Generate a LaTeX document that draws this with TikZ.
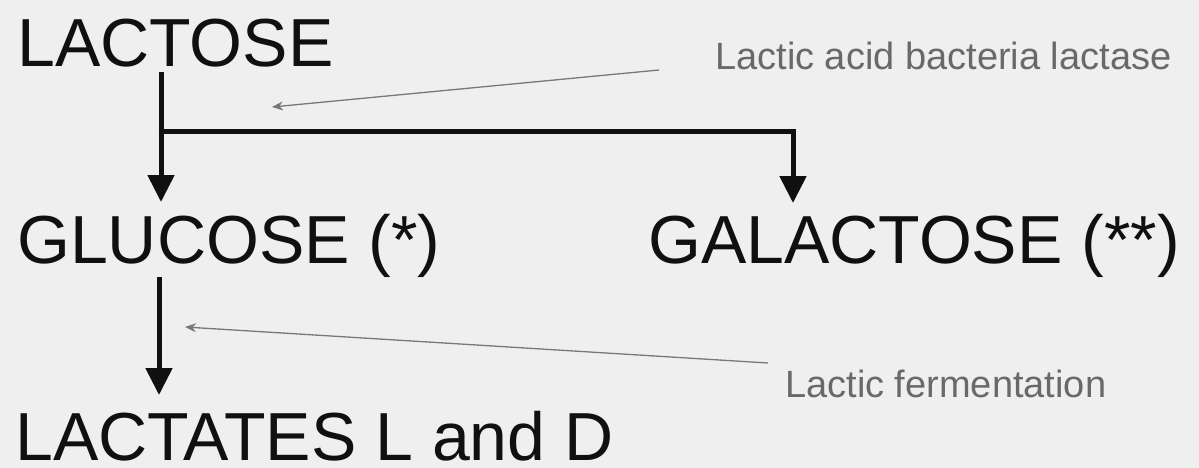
\documentclass[tikz,border=0pt]{standalone}
\usepackage{fontspec}
\setmainfont{Liberation Sans}
\usetikzlibrary{arrows.meta}
\definecolor{bg}{RGB}{239,239,239}
\definecolor{ink}{RGB}{16,16,16}
\definecolor{lbl}{RGB}{105,105,105}
\definecolor{thinarr}{RGB}{120,120,120}
\tikzset{
  big/.style={anchor=base west, inner sep=0pt, text=ink, font=\fontsize{68}{80}\selectfont},
  small/.style={anchor=base west, inner sep=0pt, text=lbl, font=\fontsize{38}{44}\selectfont},
  mainarr/.style={draw=ink, line width=5pt, -{Triangle[width=26pt,length=27pt]}},
  thinarr/.style={draw=thinarr, line width=1.3pt, -{Stealth[width=9pt,length=11pt]}}
}
\begin{document}
\begin{tikzpicture}[x=1pt,y=-1pt]
\fill[bg] (0,0) rectangle (1199,468);
\useasboundingbox (0,0) rectangle (1199,468);
\node[big] (lactose) at (17,67) {LACTOSE};
\node[big] (glucose) at (17,263) {GLUCOSE (*)};
\node[big] (galactose) at (648,263) {GALACTOSE (**)};
\node[big] (lactates) at (15,460) {LACTATES L and D};
\node[small] (lab1) at (715,70) {Lactic acid bacteria lactase};
\node[small] (lab2) at (785,397) {Lactic fermentation};
\coordinate (b) at (161,132);
\coordinate (g) at (793,132);
\coordinate (c) at (159,0);
\coordinate (t1) at (272,107);
\coordinate (t2) at (185,327);
% lactose -> glucose
\draw[mainarr] ([yshift=-5pt]lactose.base -| b) -- ([yshift=61pt]glucose.base -| b);
% branch -> galactose
\draw[mainarr] ([xshift=-2.5pt]b) -- (g) -- ([yshift=60pt]galactose.base -| g);
% glucose -> lactates
\draw[mainarr] ([yshift=-14pt]glucose.base -| c) -- ([yshift=65pt]lactates.base -| c);
% labels
\draw[thinarr] ([xshift=-56pt]lab1.base west) -- (t1);
\draw[thinarr] ([xshift=-17pt,yshift=34pt]lab2.base west) -- (t2);
\end{tikzpicture}
\end{document}
